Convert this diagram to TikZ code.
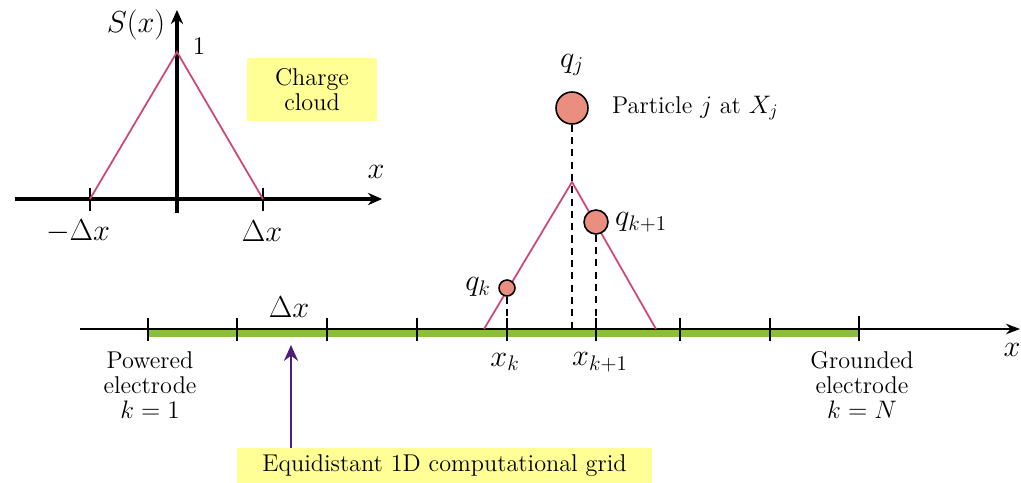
\documentclass[tikz,border=0pt]{standalone}
\usepackage{amsmath,amssymb}
\usepackage{xcolor}
\usepackage{tikz}
\usetikzlibrary{arrows.meta,positioning}
\definecolor{cloudred}{RGB}{204,70,120}
\definecolor{partfill}{RGB}{234,142,128}
\definecolor{gridgreen}{RGB}{140,190,62}
\definecolor{notebg}{RGB}{255,255,150}
\definecolor{arrowpurple}{RGB}{78,28,122}

\begin{document}
\begin{tikzpicture}[x=0.02cm,y=-0.02cm,every node/.style={font=\fontsize{13.8}{14.4}\selectfont},
  axis/.style={line width=1.1pt,-{Stealth[length=8pt,width=6pt]}},
  inaxis/.style={line width=1.8pt,-{Stealth[length=8pt,width=7pt]}},
  cloud/.style={draw=cloudred,line width=1pt},
  particle/.style={circle,draw,line width=0.9pt,fill=partfill,inner sep=0pt},
  proj/.style={dashed,line width=0.9pt,dash pattern=on 4pt off 3pt},
  note/.style={fill=notebg,align=center,inner sep=3pt},
  mathlbl/.style={font=\fontsize{16.5}{19}\selectfont}]
  \useasboundingbox (0,0) rectangle (1021,483);
  % shape function inset
  \draw[inaxis] (15,199) -- (382,199);
  \draw[inaxis] (177,213) -- (177,10);
  \draw[line width=1.2pt] (90,188) -- (90,211) (263,188) -- (263,211);
  \draw[cloud] (90,199) -- (177,52) -- (263,199);
  \node[mathlbl] (slbl) at (136,25) {$S(x)$};
  \node (one) at (199,46) {$1$};
  \node[mathlbl] (xin) at (376,172) {$x$};
  \node[mathlbl] (mdx) at (78,231) {$-\Delta x$};
  \node[mathlbl] (pdx) at (262,231) {$\Delta x$};
  \node[note,minimum width=2.6cm,minimum height=1.26cm] (cc) at (312,89.5) {Charge\\cloud};
  % grid
  \fill[gridgreen] (148,329) rectangle (859,337);
  \draw[axis] (80,329) -- (1020,329);
  \foreach \gx [count=\i] in {148,237,327,417,507,596,680,770}
    \draw[line width=1pt] (\gx,318) -- (\gx,341) coordinate (t\i);
  \draw[line width=1.6pt] (859,316) -- (859,341);
  \coordinate (xk) at (507,329);
  \coordinate (xk1) at (596,329);
  \coordinate (xj) at (572,329);
  \node[mathlbl] (xlbl) at (1012,350) {$x$};
  \node[mathlbl] (dx) at (289,307) {$\Delta x$};
  \node[mathlbl] (xklbl) at (505,362) {$x_k$};
  \node[mathlbl] (xk1lbl) at (600,362) {$x_{k+1}$};
  % charge cloud of particle j
  \draw[cloud] (484,329) -- (572,182) -- (656,329);
  \node[particle,minimum size=0.64cm] (qj) at (572,108) {};
  \node[particle,minimum size=0.48cm] (qk1) at (596,222) {};
  \node[particle,minimum size=0.32cm] (qk) at (507,288) {};
  \node[mathlbl] (qjlbl) at (572,65) {$q_j$};
  \node[anchor=west] (plbl) at (606,108) {Particle $j$ at $X_j$};
  \node[mathlbl,anchor=west] (qk1lbl) at (609,222) {$q_{k+1}$};
  \node[mathlbl,anchor=east] (qklbl) at (497,287) {$q_k$};
  \draw[proj] (qj) -- (xj);
  \draw[proj] (qk1) -- (xk1);
  \draw[proj] (qk) -- (xk);
  % electrodes
  \node[align=center] (powered) at (150,385) {Powered\\electrode\\$k=1$};
  \node[align=center] (grounded) at (862,385) {Grounded\\electrode\\$k=N$};
  % grid label
  \node[note,minimum width=8.3cm,minimum height=0.7cm] (gridlbl) at (444.5,465.5) {Equidistant 1D computational grid};
  \coordinate (gridpt) at (291,345);
  \draw[arrowpurple,line width=1.5pt,-{Stealth[length=9pt,width=8pt]}] (gridlbl.north -| gridpt) -- (gridpt);
\end{tikzpicture}
\end{document}
